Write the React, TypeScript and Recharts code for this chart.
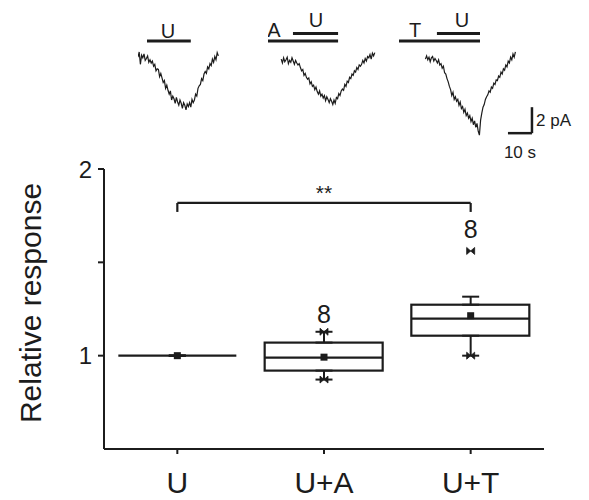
import React from 'react';
import {
  ComposedChart,
  LineChart,
  Line,
  Bar,
  Scatter,
  ErrorBar,
  XAxis,
  YAxis,
  ReferenceLine,
  ReferenceDot,
} from 'recharts';

const FONT = '"Liberation Sans", Arial, Helvetica, sans-serif';
const INK = '#1c1c1c';

// ---------------- Box plot data ----------------
const categories = ['U', 'U+A', 'U+T'];
const q1 = [1, 0.92, 1.107];
const q3 = [1, 1.07, 1.273];
const medians = [1, 0.989, 1.198];
const means = [1, 0.992, 1.214];
const whiskerLow = [1, 0.872, 1.0];
const whiskerHigh = [1, 1.128, 1.316];
const markLow: (number | null)[] = [null, 0.872, 1.0];
const markHigh: (number | null)[] = [null, 1.128, 1.561];
const nLabels = ['', '8', '8'];
const nLabelY: (number | null)[] = [null, 1.176, 1.631];
const yDomain: [number, number] = [0.5, 2];
const yTicks = [1, 1.5, 2];
const bracketY = 1.818;
const bracketDrop = 1.77;
const starsY = 1.834;

// ---------------- Trace data (pA, sampled every 0.5 s) ----------------
const SAMPLE_STEP = 0.5;
const trace1Start = 0;
const trace1Values = [
  0.1, 0.5, -0.45, 0.25, 0.05, 0.35, -0.15, 0.0, 0.2, -0.3,
  -0.1, -0.35, -0.2, -0.6, -0.45, -0.95, -0.8, -0.85, -1.4, -1.15,
  -1.5, -1.85, -1.7, -2.3, -2.05, -2.45, -2.75, -2.5, -3.2, -2.9,
  -3.1, -3.45, -3.0, -3.35, -3.6, -3.2, -3.45, -3.85, -3.4, -3.6,
  -3.95, -3.5, -3.7, -3.4, -3.75, -3.15, -3.4, -3.2, -2.75, -2.9,
  -2.3, -2.1, -2.0, -1.55, -1.7, -1.2, -1.0, -1.15, -0.65, -0.8,
  -0.4, -0.55, -0.05, -0.3, 0.15, -0.1, 0.45, 0.2,
];
const trace2Start = 5.5;
const trace2Values = [
  -0.05, -0.35, 0.05, -0.25, -0.1, 0.1, -0.4, -0.15, -0.3, 0.05,
  -0.2, -0.45, -0.15, -0.35, -0.5, -0.4, -0.7, -0.95, -0.85, -1.3,
  -1.15, -1.45, -1.6, -1.5, -1.95, -1.8, -2.15, -2.05, -2.4, -2.2,
  -2.55, -2.75, -2.5, -2.9, -2.75, -3.05, -2.85, -3.25, -2.95, -3.15,
  -3.4, -3.1, -3.3, -3.55, -3.2, -3.45, -3.0, -3.1, -2.7, -2.85,
  -2.5, -2.35, -2.45, -2.0, -2.15, -1.75, -1.85, -1.45, -1.55, -1.2,
  -1.3, -0.95, -1.05, -0.7, -0.85, -0.5, -0.6, -0.45, -0.15, -0.35,
  0.0, -0.2, 0.15, 0.05, 0.3, -0.05, 0.4, 0.2, 0.45,
];
const trace3Start = 11;
const trace3Values = [
  -0.05, 0.2, -0.1, 0.1, -0.25, 0.05, 0.15, -0.2, 0.0, -0.15,
  -0.35, -0.1, -0.5, -0.4, -0.75, -0.6, -1.1, -1.2, -1.55, -1.8,
  -2.15, -2.4, -2.85, -2.6, -3.15, -2.95, -3.3, -3.15, -3.6, -3.35,
  -3.85, -3.7, -4.15, -3.9, -4.4, -4.2, -4.6, -4.4, -4.85, -4.6,
  -5.1, -4.8, -5.3, -5.0, -5.6, -5.9, -4.75, -4.2, -3.75, -3.55,
  -3.15, -2.95, -2.8, -2.5, -2.6, -2.2, -2.3, -1.9, -2.0, -1.65,
  -1.7, -1.35, -1.45, -1.05, -1.2, -0.8, -0.9, -0.5, -0.65, -0.2,
  -0.35, 0.1, -0.1, 0.35, 0.1, 0.5,
];

// Drug application bars (s) and labels
const trace1Bars = [{ from: 3.75, to: 22, level: 1.35 }];
const trace1Labels = [{ t: 12.5, y: 1.6, text: 'U' }];
const trace2Bars = [
  { from: 0, to: 29.2, level: 1.35 },
  { from: 10.4, to: 29.2, level: 1.92 },
];
const trace2Labels = [
  { t: 2.5, y: 1.65, text: 'A' },
  { t: 20, y: 2.42, text: 'U' },
];
const trace3Bars = [
  { from: 0, to: 33.75, level: 1.35 },
  { from: 15.8, to: 33.75, level: 1.92 },
];
const trace3Labels = [
  { t: 6.7, y: 1.65, text: 'T' },
  { t: 26.25, y: 2.42, text: 'U' },
];
// scale bar: 10 s x 2 pA
const scaleT = [45.4, 55.4];
const scaleI = [-5.75, -3.75];

const PX_PER_S = 2.4;
const TRACE_H = 165;
const TRACE_Y_DOMAIN: [number, number] = [-8.2, 4.5];

const toSeries = (start: number, values: number[]) =>
  values.map((v, i) => ({ t: start + i * SAMPLE_STEP, i: v }));

const boxData = categories.map((name, k) => ({
  name,
  box: [q1[k], q3[k]],
  q1: q1[k],
  q3: q3[k],
  upperErr: [0, whiskerHigh[k] - q3[k]],
  lowerErr: [q1[k] - whiskerLow[k], 0],
  median: medians[k],
  mean: means[k],
  markLow: markLow[k],
  markHigh: markHigh[k],
}));

const TextShape = (text: string, size: number, anchor = 'middle', baseline = 'alphabetic') =>
  (p: any) => (
    <text
      x={p.cx}
      y={p.cy}
      textAnchor={anchor}
      dominantBaseline={baseline}
      fontSize={size}
      fontFamily={FONT}
      fill={INK}
    >
      {text}
    </text>
  );

function TraceChart({
  left,
  width,
  data,
  bars,
  labels,
  scale,
}: {
  left: number;
  width: number;
  data: { t: number; i: number }[];
  bars: { from: number; to: number; level: number }[];
  labels: { t: number; y: number; text: string }[];
  scale?: boolean;
}) {
  return (
    <div style={{ position: 'absolute', left, top: 0 }}>
      <LineChart width={width} height={TRACE_H} data={data} margin={{ top: 0, right: 0, bottom: 0, left: 0 }}>
        <XAxis type="number" dataKey="t" domain={[0, width / PX_PER_S]} hide allowDataOverflow />
        <YAxis type="number" domain={TRACE_Y_DOMAIN} hide allowDataOverflow />
        {bars.map((b, k) => (
          <ReferenceLine
            key={'b' + k}
            segment={[
              { x: b.from, y: b.level },
              { x: b.to, y: b.level },
            ]}
            stroke={INK}
            strokeWidth={3}
            ifOverflow="visible"
          />
        ))}
        <Line
          type="linear"
          dataKey="i"
          stroke={INK}
          strokeWidth={1.2}
          dot={false}
          isAnimationActive={false}
        />
        {labels.map((l, k) => (
          <ReferenceDot key={'l' + k} x={l.t} y={l.y} r={1} ifOverflow="visible" shape={TextShape(l.text, 20)} />
        ))}
        {scale && (
          <ReferenceLine
            segment={[
              { x: scaleT[1], y: scaleI[1] },
              { x: scaleT[1], y: scaleI[0] },
            ]}
            stroke={INK}
            strokeWidth={2.5}
            ifOverflow="visible"
          />
        )}
        {scale && (
          <ReferenceLine
            segment={[
              { x: scaleT[0], y: scaleI[0] },
              { x: scaleT[1], y: scaleI[0] },
            ]}
            stroke={INK}
            strokeWidth={2.5}
            ifOverflow="visible"
          />
        )}
        {scale && (
          <ReferenceDot
            x={scaleT[1] + 1.7}
            y={(scaleI[0] + scaleI[1]) / 2}
            r={1}
            ifOverflow="visible"
            shape={TextShape('2 pA', 17, 'start', 'central')}
          />
        )}
        {scale && (
          <ReferenceDot
            x={(scaleT[0] + scaleT[1]) / 2}
            y={-7.65}
            r={1}
            ifOverflow="visible"
            shape={TextShape('10 s', 17, 'middle', 'alphabetic')}
          />
        )}
      </LineChart>
    </div>
  );
}

const boxShape = (p: any) => (
  <rect x={p.x} y={p.y} width={p.width} height={Math.max(p.height, 0)} fill="#ffffff" stroke={INK} strokeWidth={2.2} />
);

const emptyShape = () => <g />;

const medianShape = (p: any) => (
  <line x1={p.cx - 59} x2={p.cx + 59} y1={p.cy} y2={p.cy} stroke={INK} strokeWidth={2.2} />
);

const meanShape = (p: any) => <rect x={p.cx - 3.5} y={p.cy - 3.5} width={7} height={7} fill={INK} />;

const bowtieShape = (p: any) => {
  if (!Number.isFinite(p.cy) || !Number.isFinite(p.cx) || p.cy > 449) return <g />;
  const { cx, cy } = p;
  return (
    <polygon
      points={`${cx - 4},${cy - 3.5} ${cx + 4},${cy + 3.5} ${cx + 4},${cy - 3.5} ${cx - 4},${cy + 3.5}`}
      fill={INK}
      stroke={INK}
      strokeWidth={0.8}
    />
  );
};

const YLabel = (p: any) => {
  const vb = p.viewBox || { x: 0, y: 169, width: 104, height: 280 };
  const cx = 30;
  const cy = vb.y + vb.height / 2 - 6;
  return (
    <text
      x={cx}
      y={cy}
      transform={`rotate(-90, ${cx}, ${cy})`}
      textAnchor="middle"
      dominantBaseline="central"
      fontSize={30}
      fontFamily={FONT}
      fill={INK}
    >
      Relative response
    </text>
  );
};

export default function App() {
  return (
    <div style={{ position: 'absolute', left: 0, top: 0, width: 589, height: 500, background: '#fff', fontFamily: FONT }}>
      <TraceChart left={138} width={90} data={toSeries(trace1Start, trace1Values)} bars={trace1Bars} labels={trace1Labels} />
      <TraceChart left={268} width={120} data={toSeries(trace2Start, trace2Values)} bars={trace2Bars} labels={trace2Labels} />
      <TraceChart left={399} width={190} data={toSeries(trace3Start, trace3Values)} bars={trace3Bars} labels={trace3Labels} scale />
      <div style={{ position: 'absolute', left: 0, top: 0 }}>
        <ComposedChart width={589} height={500} data={boxData} margin={{ top: 169, right: 45, bottom: 0, left: 0 }}>
          <XAxis
            dataKey="name"
            type="category"
            height={51}
            tickSize={5}
            tickMargin={18}
            axisLine={{ stroke: INK, strokeWidth: 2 }}
            tickLine={{ stroke: INK, strokeWidth: 2 }}
            tick={{ fontSize: 30, fill: INK, fontFamily: FONT }}
            interval={0}
          />
          <YAxis
            type="number"
            domain={yDomain}
            ticks={yTicks}
            width={104}
            tickSize={6}
            tickMargin={6}
            tickFormatter={(v: number) => (v === 1.5 ? '' : String(v))}
            axisLine={{ stroke: INK, strokeWidth: 2 }}
            tickLine={{ stroke: INK, strokeWidth: 2 }}
            tick={{ fontSize: 24, fill: INK, fontFamily: FONT }}
            label={{ content: YLabel }}
            allowDataOverflow
          />
          <Scatter dataKey="q3" shape={emptyShape} isAnimationActive={false}>
            <ErrorBar dataKey="upperErr" direction="y" width={8.5} stroke={INK} strokeWidth={2} isAnimationActive={false} />
          </Scatter>
          <Scatter dataKey="q1" shape={emptyShape} isAnimationActive={false}>
            <ErrorBar dataKey="lowerErr" direction="y" width={8.5} stroke={INK} strokeWidth={2} isAnimationActive={false} />
          </Scatter>
          <Bar dataKey="box" barSize={118} shape={boxShape} isAnimationActive={false} />
          <Scatter dataKey="median" shape={medianShape} isAnimationActive={false} />
          <Scatter dataKey="mean" shape={meanShape} isAnimationActive={false} />
          <Scatter dataKey="markLow" shape={bowtieShape} isAnimationActive={false} />
          <Scatter dataKey="markHigh" shape={bowtieShape} isAnimationActive={false} />
          <ReferenceLine
            segment={[
              { x: categories[0], y: bracketY },
              { x: categories[2], y: bracketY },
            ]}
            stroke={INK}
            strokeWidth={2.2}
          />
          <ReferenceLine
            segment={[
              { x: categories[0], y: bracketY },
              { x: categories[0], y: bracketDrop },
            ]}
            stroke={INK}
            strokeWidth={2.2}
          />
          <ReferenceLine
            segment={[
              { x: categories[2], y: bracketY },
              { x: categories[2], y: bracketDrop },
            ]}
            stroke={INK}
            strokeWidth={2.2}
          />
          <ReferenceDot x={categories[1]} y={starsY} r={1} shape={TextShape('**', 21)} />
          {categories.map((c, k) =>
            nLabels[k] && nLabelY[k] !== null ? (
              <ReferenceDot
                key={'n' + k}
                x={c}
                y={nLabelY[k] as number}
                r={1}
                shape={TextShape(nLabels[k], 25)}
              />
            ) : null
          )}
        </ComposedChart>
      </div>
    </div>
  );
}
